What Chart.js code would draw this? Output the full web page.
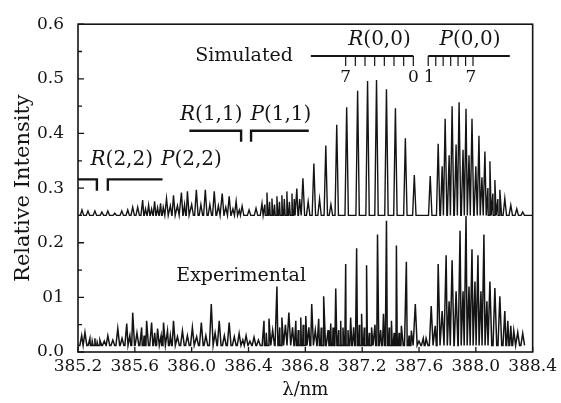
<!DOCTYPE html>
<html>
<head>
<meta charset="utf-8">
<script src="https://cdn.jsdelivr.net/npm/chart.js@4.4.1/dist/chart.umd.min.js"></script>
<style>
  html, body { margin: 0; padding: 0; background: #fff; }
  canvas { display: block; }
</style>
</head>
<body>
<canvas id="spectrum" width="561" height="403"></canvas>
<script>
// Line positions (nm) and intensities.
// Simulated spectrum: heights above its own baseline (drawn shifted up by SIM_OFFSET)
const simNm = [
  385.228, 385.270, 385.319, 385.368, 385.410, 385.459, 385.508, 385.550, 385.585, 385.620,
  385.655, 385.697, 385.739, 385.781, 385.823, 385.872, 385.928, 385.970, 386.033, 386.096,
  386.159, 386.215, 386.264, 386.313, 386.355, 386.404, 386.453, 386.495, 386.530, 386.565,
  386.600, 386.635, 386.670, 386.706, 386.740,
  386.783, 386.860, 386.944, 387.021, 387.091, 387.168, 387.238, 387.301, 387.371, 387.434, 387.504, 387.567,
  387.679, 387.735, 387.784, 387.833, 387.882, 387.931, 387.973, 388.022, 388.064, 388.099,
  388.134, 388.169, 388.204, 388.246, 388.288, 388.330
];
const simInt = [
  0.010, 0.008, 0.008, 0.006, 0.008, 0.004, 0.008, 0.010, 0.015, 0.015,
  0.028, 0.019, 0.026, 0.022, 0.031, 0.037, 0.042, 0.044, 0.047, 0.047,
  0.044, 0.040, 0.035, 0.026, 0.017, 0.010, 0.013, 0.022, 0.042, 0.031,
  0.035, 0.037, 0.044, 0.040, 0.049,
  0.068, 0.095, 0.128, 0.166, 0.198, 0.228, 0.246, 0.248, 0.231, 0.196, 0.141, 0.074,
  0.072, 0.131, 0.177, 0.200, 0.207, 0.195, 0.177, 0.146, 0.117, 0.099,
  0.065, 0.047, 0.031, 0.019, 0.012, 0.006
];
// weaker, blended lines of the simulated spectrum
const simWeakNm = [
  385.675, 385.718, 385.760, 385.800, 385.850, 385.900, 385.950, 386.000, 386.065, 386.128,
  386.188, 386.240, 386.290, 386.335, 386.515, 386.548, 386.583, 386.618, 386.652, 386.688,
  386.722, 386.760, 386.820, 386.900, 386.980,
  387.763, 387.812, 387.861, 387.910, 387.952, 388.000, 388.043, 388.085, 388.120, 388.155
];
const simWeakInt = [
  0.012, 0.012, 0.014, 0.015, 0.018, 0.018, 0.020, 0.020, 0.020, 0.020,
  0.018, 0.015, 0.012, 0.010, 0.020, 0.025, 0.020, 0.025, 0.030, 0.025,
  0.030, 0.030, 0.025, 0.030, 0.020,
  0.090, 0.110, 0.130, 0.120, 0.110, 0.090, 0.070, 0.050, 0.040, 0.030
];

// Experimental spectrum: absolute peak values
const expNm = [
  385.249, 385.284, 385.319, 385.354, 385.410, 385.480, 385.543, 385.585, 385.648, 385.683,
  385.718, 385.760, 385.802, 385.830, 385.872, 385.935, 386.005, 386.068, 386.138, 386.194,
  386.264, 386.334, 386.383, 386.439, 386.509, 386.544, 386.600, 386.635, 386.684, 386.733,
  386.768, 386.803, 386.845, 386.894, 386.929, 386.979, 387.014, 387.049, 387.084, 387.119,
  387.161, 387.196, 387.231, 387.266, 387.308, 387.350, 387.371, 387.406, 387.441, 387.476,
  387.511, 387.546, 387.574, 387.630, 387.686, 387.714, 387.735, 387.763, 387.791, 387.812,
  387.833, 387.861, 387.889, 387.910, 387.931, 387.952, 387.973, 387.994, 388.015, 388.036,
  388.057, 388.078, 388.099, 388.134, 388.169, 388.204, 388.225, 388.246, 388.267, 388.295, 388.330
];
const expInt = [
  0.036, 0.025, 0.025, 0.022, 0.030, 0.043, 0.052, 0.072, 0.045, 0.057,
  0.054, 0.043, 0.054, 0.039, 0.057, 0.039, 0.045, 0.054, 0.088, 0.057,
  0.054, 0.034, 0.030, 0.027, 0.057, 0.061, 0.120, 0.063, 0.072, 0.057,
  0.063, 0.066, 0.088, 0.061, 0.102, 0.052, 0.116, 0.057, 0.161, 0.063,
  0.190, 0.070, 0.159, 0.045, 0.215, 0.070, 0.240, 0.057, 0.195, 0.048,
  0.165, 0.039, 0.088, 0.025, 0.084, 0.048, 0.161, 0.075, 0.177, 0.093,
  0.168, 0.111, 0.222, 0.111, 0.249, 0.120, 0.188, 0.129, 0.177, 0.111,
  0.215, 0.093, 0.129, 0.117, 0.102, 0.075, 0.057, 0.048, 0.039, 0.036, 0.034
];
// small lines filling the noisy floor of the experimental trace
const expWeakNm = [
  385.226, 385.300, 385.335, 385.385, 385.445, 385.510, 385.565, 385.615, 385.665, 385.740,
  385.785, 385.850, 385.900, 385.970, 386.035, 386.100, 386.165, 386.230, 386.300, 386.360,
  386.410, 386.470, 386.525, 386.570, 386.620, 386.660, 386.710, 386.750, 386.785, 386.825,
  386.870, 386.912, 386.960, 386.995, 387.035, 387.065, 387.100, 387.140, 387.180, 387.215,
  387.250, 387.290, 387.330, 387.390, 387.425, 387.460, 387.530, 387.600, 387.650
];
const expWeakInt = [
  0.030, 0.020, 0.018, 0.020, 0.022, 0.025, 0.030, 0.035, 0.030, 0.035,
  0.030, 0.030, 0.028, 0.030, 0.028, 0.030, 0.035, 0.030, 0.028, 0.022,
  0.020, 0.022, 0.035, 0.040, 0.045, 0.050, 0.045, 0.040, 0.050, 0.045,
  0.040, 0.045, 0.040, 0.045, 0.040, 0.045, 0.040, 0.045, 0.050, 0.045,
  0.035, 0.050, 0.040, 0.045, 0.035, 0.035, 0.030, 0.020, 0.025
];

// rotational line markers above the simulated spectrum
const r00Marks = [387.084, 387.152, 387.220, 387.288, 387.356, 387.424, 387.492, 387.560];
const p00Marks = [387.665, 387.718, 387.770, 387.823, 387.875, 387.928, 387.980];

const yTickLabels = { '0.0': '0.0', '0.1': '01', '0.2': '0.2', '0.3': '0.3', '0.4': '0.4', '0.5': '0.5', '0.6': '0.6' };

const SIM_OFFSET = 0.25;
const EXP_BASE = 0.012;
const X_MIN = 385.2, X_MAX = 388.4;
const ink = '#141414';
const serif = '"DejaVu Serif", "Liberation Serif", serif';

// each line becomes a narrow spike: base -> peak -> base
function spikes(nm, tops, base, half, from, to) {
  const pts = [{ x: from, y: base }, { x: to, y: base }];
  nm.forEach((c, i) => {
    pts.push({ x: c - half, y: base }, { x: c, y: tops[i] }, { x: c + half, y: base });
  });
  return pts.sort((a, b) => a.x - b.x);
}

const simPoints = spikes(
  simNm.concat(simWeakNm),
  simInt.concat(simWeakInt).map(v => v + SIM_OFFSET),
  SIM_OFFSET, 0.012, X_MIN, X_MAX
);
const expPoints = spikes(
  expNm.concat(expWeakNm),
  expInt.concat(expWeakInt),
  EXP_BASE, 0.013, X_MIN, 388.345
);

function branchLabel(ctx, letter, rest, cx, cy, size) {
  const it = `italic ${size}px ${serif}`;
  const up = `${size}px ${serif}`;
  ctx.font = it;
  const w1 = ctx.measureText(letter).width;
  ctx.font = up;
  const w2 = ctx.measureText(rest).width;
  const x0 = cx - (w1 + w2) / 2;
  ctx.textAlign = 'left';
  ctx.textBaseline = 'middle';
  ctx.font = it;
  ctx.fillText(letter, x0, cy);
  ctx.font = up;
  ctx.fillText(rest, x0 + w1, cy);
}

const annotate = {
  id: 'annotate',
  afterDraw(chart) {
    const { ctx, chartArea: a, scales: { x, y } } = chart;
    const px = v => x.getPixelForValue(v);
    const py = v => y.getPixelForValue(v);
    ctx.save();
    ctx.strokeStyle = ink;
    ctx.fillStyle = ink;

    // frame
    ctx.lineWidth = 1.6;
    ctx.strokeRect(a.left, a.top, a.right - a.left, a.bottom - a.top);

    // inward ticks
    ctx.lineWidth = 1.3;
    ctx.beginPath();
    for (let k = 0; k <= 12; k++) {
      const yy = py(k * 0.05);
      const len = k % 2 === 0 ? 6 : 4;
      ctx.moveTo(a.left, yy);
      ctx.lineTo(a.left + len, yy);
    }
    x.ticks.forEach(t => {
      const xx = px(t.value);
      ctx.moveTo(xx, a.bottom);
      ctx.lineTo(xx, a.bottom - 5);
    });
    ctx.stroke();

    // labels
    ctx.textAlign = 'center';
    ctx.textBaseline = 'middle';
    ctx.font = `19px ${serif}`;
    ctx.fillText('Simulated', px(386.369), py(0.542));
    ctx.fillText('Experimental', px(386.348), py(0.139));

    branchLabel(ctx, 'R', '(0,0)', px(387.322), py(0.571), 20);
    branchLabel(ctx, 'P', '(0,0)', px(387.959), py(0.571), 20);
    branchLabel(ctx, 'R', '(1,1)', px(386.138), py(0.434), 20);
    branchLabel(ctx, 'P', '(1,1)', px(386.628), py(0.434), 20);
    branchLabel(ctx, 'R', '(2,2)', px(385.508), py(0.352), 20);
    branchLabel(ctx, 'P', '(2,2)', px(385.998), py(0.352), 20);

    // (0,0) rules with line markers
    ctx.lineWidth = 2;
    ctx.beginPath();
    ctx.moveTo(px(386.839), py(0.542));
    ctx.lineTo(px(387.560), py(0.542));
    ctx.moveTo(px(387.665), py(0.542));
    ctx.lineTo(px(388.239), py(0.542));
    ctx.stroke();
    ctx.lineWidth = 1.2;
    ctx.beginPath();
    r00Marks.concat(p00Marks).forEach(m => {
      ctx.moveTo(px(m), py(0.542));
      ctx.lineTo(px(m), py(0.542) + 10);
    });
    ctx.stroke();

    ctx.font = `17px ${serif}`;
    ctx.textAlign = 'center';
    ctx.fillText('7', px(387.084), py(0.503));
    ctx.fillText('0', px(387.560), py(0.503));
    ctx.fillText('1', px(387.672), py(0.503));
    ctx.fillText('7', px(387.966), py(0.503));

    // brackets for the (1,1) and (2,2) bands
    ctx.lineWidth = 2.4;
    ctx.beginPath();
    ctx.moveTo(px(385.984), py(0.405));
    ctx.lineTo(px(386.348), py(0.405));
    ctx.lineTo(px(386.348), py(0.385));
    ctx.moveTo(px(386.418), py(0.385));
    ctx.lineTo(px(386.418), py(0.405));
    ctx.lineTo(px(386.824), py(0.405));
    ctx.moveTo(px(385.2), py(0.316));
    ctx.lineTo(px(385.333), py(0.316));
    ctx.lineTo(px(385.333), py(0.295));
    ctx.moveTo(px(385.410), py(0.295));
    ctx.lineTo(px(385.410), py(0.316));
    ctx.lineTo(px(385.795), py(0.316));
    ctx.stroke();

    ctx.restore();
  }
};

new Chart(document.getElementById('spectrum'), {
  type: 'scatter',
  data: {
    datasets: [
      {
        label: 'Simulated',
        data: simPoints,
        showLine: true,
        borderColor: ink,
        borderWidth: 1.4,
        pointRadius: 0,
        tension: 0
      },
      {
        label: 'Experimental',
        data: expPoints,
        showLine: true,
        borderColor: ink,
        borderWidth: 1.5,
        pointRadius: 0,
        tension: 0
      }
    ]
  },
  options: {
    responsive: false,
    animation: false,
    layout: { padding: { top: 20, right: 26, left: 0, bottom: 0 } },
    plugins: {
      legend: { display: false },
      tooltip: { enabled: false }
    },
    scales: {
      x: {
        type: 'linear',
        min: X_MIN,
        max: X_MAX,
        grid: { display: false, drawTicks: false },
        border: { display: false },
        ticks: {
          stepSize: 0.4,
          autoSkip: false,
          maxRotation: 0,
          padding: 4,
          color: ink,
          font: { family: serif, size: 17 },
          callback: v => Number(v).toFixed(1)
        },
        title: {
          display: true,
          text: 'λ/nm',
          color: ink,
          font: { family: serif, size: 18 },
          padding: { top: 0, bottom: 2 }
        },
        afterFit: s => { s.height = 51; }
      },
      y: {
        min: 0,
        max: 0.6,
        grid: { display: false, drawTicks: false },
        border: { display: false },
        ticks: {
          stepSize: 0.1,
          padding: 14,
          color: ink,
          font: { family: serif, size: 17 },
          callback: v => yTickLabels[Number(v).toFixed(1)]
        },
        title: {
          display: true,
          text: 'Relative Intensity',
          color: ink,
          font: { family: serif, size: 21 },
          padding: { top: 11, bottom: 0 }
        },
        afterFit: s => { s.width = 78; }
      }
    }
  },
  plugins: [annotate]
});
</script>
</body>
</html>
